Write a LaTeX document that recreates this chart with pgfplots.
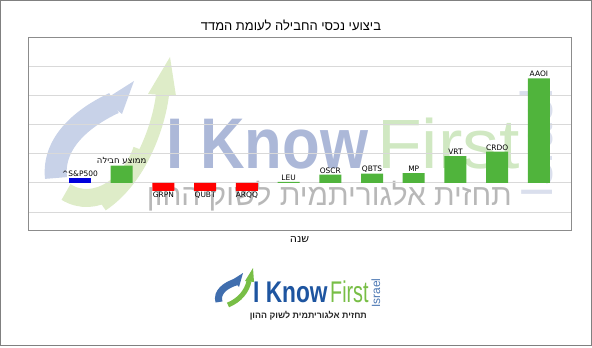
\documentclass[border=0pt]{standalone}
\usepackage{pgfplots}
\pgfplotsset{compat=1.18}
\usepackage{fontspec}
\setmainfont{DejaVu Sans}
\newfontfamily\hebdv[Script=Hebrew]{DejaVu Sans}
\newfontfamily\heb[Script=Hebrew]{Liberation Sans}
\newfontfamily\lib{Liberation Sans}
\TeXXeTstate=1
\definecolor{bargreen}{RGB}{80,180,60}
\definecolor{barblue}{RGB}{0,0,220}
\definecolor{wmblue}{RGB}{200,210,232}
\definecolor{wmbluetext}{RGB}{172,184,216}
\definecolor{wmgreen}{RGB}{222,236,200}
\definecolor{wmgreentext}{RGB}{208,232,194}
\definecolor{logoblue}{RGB}{30,85,160}
\definecolor{logogreen}{RGB}{120,190,70}
\newcommand\avglabel{{\hebdv\fontsize{8.5}{9}\selectfont\beginR ממוצע חבילה\endR}}
\begin{document}
\begin{tikzpicture}[x=1bp,y=1bp]
\path[use as bounding box] (0,0) rectangle (592,347);
\draw[color=black!50, line width=1bp] (0.5,2) rectangle (591.5,346.5);
% watermark swooshes (image coordinates)
\begin{scope}[yshift=347bp, yscale=-1]
\draw[wmblue, line width=22bp] (56,178) .. controls (52,142) and (84,117) .. (114,103);
\fill[wmblue] (134,81) -- (104,100) -- (122,114) -- cycle;
\draw[wmgreen, line width=18bp] (66,192) .. controls (95,210) and (130,185) .. (142,150);
\draw[wmgreen, line width=13bp] (102,205) .. controls (140,180) and (160,125) .. (163,90);
\fill[wmgreen] (170,57) -- (148,94) -- (176,96) -- cycle;
% bottom logo icon
\draw[logoblue!85, line width=7bp] (219,302) .. controls (216,292) and (226,285) .. (236,282);
\fill[logoblue!85] (243,273) -- (232,280) -- (239,287) -- cycle;
\draw[logogreen, line width=5bp] (228,305) .. controls (240,300) and (247,291) .. (249,281);
\fill[logogreen] (253,268) -- (245,281) -- (254,282) -- cycle;
\end{scope}
% watermark text
\node[anchor=base west, inner sep=0, text=wmbluetext] at (166,179) {\scalebox{0.86}[1]{\lib\bfseries\fontsize{72}{72}\selectfont I Know}};
\node[anchor=base west, inner sep=0, text=wmgreentext] at (377,179) {\scalebox{1.05}[1]{\lib\fontsize{70}{70}\selectfont First}};
\node[anchor=base east, inner sep=0, text=black!28] at (512,142) {\heb\fontsize{30}{30}\selectfont\beginR תחזית אלגוריתמית לשוק ההון\endR};
\node[rotate=90, anchor=base, inner sep=0, text=wmbluetext!45] at (552,203.5) {\lib\fontsize{45}{45}\selectfont Israel};
\begin{axis}[at={(28bp,117bp)}, anchor=south west, width=543bp, height=193bp, scale only axis,
  xmin=-1.247, xmax=11.77, ymin=-162, ymax=500,
  ytick={-100,0,...,400}, yticklabels={}, xtick=\empty,
  ymajorgrids, grid style={color=black!15, line width=0.8bp},
  major tick length=0pt, axis line style={color=black!45, line width=0.8bp},
  ybar, bar width=22bp, bar shift=0pt,
  nodes near coords, point meta=explicit symbolic,
  every node near coord/.append style={font=\fontsize{7.5}{8}\selectfont, inner sep=1.2pt, text=black},
  clip=false]
\addplot[fill=barblue, draw=none, bar shift=0pt] coordinates {(0,15) [\textasciicircum S\&P500]};
\addplot[fill=bargreen, draw=none, bar shift=0pt] coordinates {(1,59) [\avglabel] (5,3) [LEU] (6,28) [OSCR] (7,31) [QBTS] (8,33) [MP] (9,91) [VRT] (10,107) [CRDO] (11,358) [AAOI]};
\addplot[fill=red, draw=none, bar shift=0pt, nodes near coords style={anchor=north, inner sep=0.5pt}] coordinates {(2,-28) [GRPN] (3,-28) [QUBT] (4,-28) [ARQQ]};
\end{axis}
% title and x label
\node[text=black] at (291,322) {\heb\fontsize{13}{15}\selectfont\beginR ביצועי נכסי החבילה לעומת המדד\endR};
\node[text=black] at (299.5,108) {\hebdv\fontsize{11}{13}\selectfont\beginR שנה\endR};
% bottom logo text
\node[anchor=base west, inner sep=0, text=logoblue] at (253,45) {\scalebox{0.76}[1]{\lib\bfseries\fontsize{30}{30}\selectfont I Know}};
\node[anchor=base west, inner sep=0, text=logogreen] at (330,45) {\scalebox{0.66}[1]{\lib\fontsize{30}{30}\selectfont First}};
\node[anchor=base east, inner sep=0, text=black!85] at (367,29) {\resizebox{117bp}{!}{\heb\bfseries\beginR תחזית אלגוריתמית לשוק ההון\endR}};
\node[rotate=90, anchor=base, inner sep=0, text=logoblue!80] at (380,54) {\lib\fontsize{12}{12}\selectfont Israel};
\end{tikzpicture}
\end{document}
